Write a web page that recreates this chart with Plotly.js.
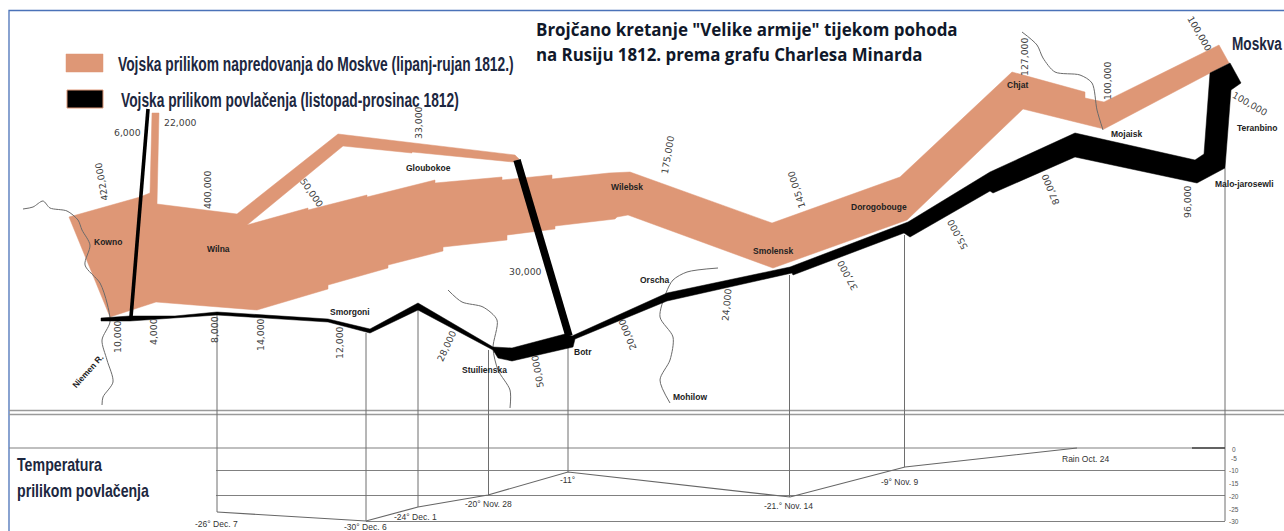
<!DOCTYPE html>
<html>
<head>
<meta charset="utf-8">
<script src="https://cdn.plot.ly/plotly-3.0.1.min.js"></script>
<style>html,body{margin:0;padding:0;background:#fff;overflow:hidden}#c{width:1284px;height:531px}</style>
</head>
<body>
<div id="c"></div>
<script>
// Army bands in image coordinates
const advanceX = [69,76,140,150,152,159,157,237,338,515,519,513,412,412,343,247,308,308,367,367,435,435,502,502,520,552,552,609,630,772,900,1012,1085,1085,1104,1219,1229,1104,1023,907,773,628,617,615,555,555,507,507,443,443,388,388,328,328,257,156,110];
const advanceY = [217,215,197,193,113,113,204,214,134,155,159,162,152,153,146,225,208,210,195,197,180,183,177,180,178,175,179,173,172,223,177,72,92,98,102,45,63,129,109,220,268,215,217,219,226,229,235,240,247,251,265,268,285,289,310,302,317];
const retreatX = [101,130,175,217,328,370,418,493,512,565,572,667,790,908,990,1075,1195,1204,1210,1230,1241,1231,1225,1197,1075,993,990,910,904,793,792,667,575,573,512,498,493,418,370,328,217,175,130,101];
const retreatY = [318,316,316,312,319,329,303,347,348,334,336,293,267,222,172,133,160,154,73,63,83,90,168,183,157,193,191,237,233,275,273,301,339,347,361,358,350,310,333,322,315,318,321,321];
const branch6000X = [148,131];
const branch6000Y = [109,317];
const branch30000X = [517,569];
const branch30000Y = [160,336];
// Rivers
const niemenX = [23,33,43,50,67,78,82,90,85,100,107,110,102,107,113,103,102];
const niemenY = [209,207,201,208,211,220,230,245,265,283,303,322,340,360,382,397,405];
const berezinaX = [448,462,483,497,493,498,510,510];
const berezinaY = [290,302,307,320,348,370,390,408];
const dnieperX = [718,687,673,666,660,673,670,660,670];
const dnieperY = [268,272,280,293,317,337,360,380,403];
const moskvaX = [1022,1037,1043,1055,1080,1092,1097,1103];
const moskvaY = [32,45,58,72,75,83,110,130];
// Temperature profile
const tempX = [217,366,418,488,568,790,905,1077];
const tempY = [512,521,507,495,472,497,467,448];
const rainX = [1192,1225];
const rainY = [448,448];
const dropX = [217,366,418,488.5,568,789.5,904.5,1225];
const dropTop = [315,333,310,350,340,275,235,168];
const dropBottom = [512,521,507,495,472,497,467,521];
const tempGridY = [448,470.5,495.5,521.5];
const tempGridStart = [9,216,216,366];
const bandY = [410.5,414.5];
// Labels
const cityNames = ["Kowno","Wilna","Gloubokoe","Wilebsk","Smolensk","Dorogobouge","Chjat","Mojaisk","Teranbino","Malo-jarosewli","Smorgoni","Stuilienska","Botr","Orscha","Mohilow"];
const cityX = [108,218,428,627,773,879,1017,1126,1257,1244,350,484,583,655,690];
const cityY = [242,249,168,187,251,207,85,134,128,184,312,370,352,280,397];
const troopNames = ["422,000","6,000","22,000","400,000","50,000","33,000","175,000","145,000","30,000","127,000","100,000","100,000","100,000","96,000","87,000","55,000","37,000","24,000","20,000","50,000","10,000","4,000","8,000","14,000","12,000","28,000"];
const troopX = [101,127,180,207,312,418,667,796,525,1024,1107,1200,1250,1187,1050,957,847,726,627,537,117,153,214,260,339,446];
const troopY = [182,132,122,190,192,123,155,190,271,57,81,33,103,202,190,235,276,305,335,372,337,332,330,335,343,346];
const troopAngle = [-100,0,0,-90,55,-90,-80,-107,0,-90,-90,60,30,-90,-112,-118,-118,-85,-112,-100,-90,-90,-90,-90,-90,-65];
const tempNames = ["-26° Dec. 7","-30° Dec. 6","-24° Dec. 1","-20° Nov. 28","-11°","-21.° Nov. 14","-9° Nov. 9","Rain Oct. 24"];
const tempLabelX = [216,365,415,488,567,788,900,1086];
const tempLabelY = [524,526.5,517,504,480,506,482,459];
const scaleNames = ["0","-5","-10","-15","-20","-25","-30"];
const scaleY = [449,458,470.5,483,496,509,521];
const legendNames = ["Vojska prilikom napredovanja do Moskve (lipanj-rujan 1812.)","Vojska prilikom povlačenja (listopad-prosinac 1812)"];
const titleLines = ['Brojčano kretanje "Velike armije" tijekom pohoda','na Rusiju 1812. prema grafu Charlesa Minarda'];
const swatchAdvanceX = [66,103,103,66], swatchAdvanceY = [54,54,72,72];
const swatchRetreatX = [67,103,103,67], swatchRetreatY = [90,90,108,108];
const frameX = [9,9,1284], frameY = [531,10.5,10.5];

const SALMON = "#de9776", NAVY = "#1c2740", GREY = "#6e6e6e";
const traces = [];
const line = (x,y,color,width,extra) => traces.push(Object.assign({type:"scatter",mode:"lines",x,y,hoverinfo:"skip",showlegend:false,line:Object.assign({color,width},extra||{})}));
const poly = (x,y,fill,lc,lw) => traces.push({type:"scatter",mode:"lines",x:x.concat(x[0]),y:y.concat(y[0]),fill:"toself",fillcolor:fill,hoverinfo:"skip",showlegend:false,line:{color:lc||fill,width:lw===undefined?0.5:lw}});

line(frameX,frameY,"#4a72b8",1.3);
bandY.forEach(y=>line([9,1284],[y,y],"#9a9a9a",1.3));
tempGridY.forEach((y,i)=>line([tempGridStart[i],1225],[y,y],"#808080",1.1));
dropX.forEach((x,i)=>line([x,x],[dropTop[i],dropBottom[i]],GREY,1));
line(tempX,tempY,"#666666",1.2);
line(rainX,rainY,"#444444",1.5);
poly(advanceX,advanceY,SALMON);
poly(swatchAdvanceX,swatchAdvanceY,SALMON);
poly(swatchRetreatX,swatchRetreatY,"#000000",SALMON,1);
[[niemenX,niemenY],[berezinaX,berezinaY],[dnieperX,dnieperY],[moskvaX,moskvaY]].forEach(r=>line(r[0],r[1],"#6a6a6a",1,{shape:"spline",smoothing:0.8}));
poly(retreatX,retreatY,"#000000");
line(branch6000X,branch6000Y,"#000000",3.6);
line(branch30000X,branch30000Y,"#000000",7.5);

const ann = [];
const squeeze = [];
const note = (text,x,y,size,color,family,angle,anchor,weight,widthPx) => {
  if (widthPx) squeeze.push({index:ann.length,widthPx});
  ann.push({text,x,y,xref:"x",yref:"y",showarrow:false,xanchor:anchor||"center",yanchor:"middle",textangle:angle||0,align:"left",font:{size,color,family,weight:weight||400},borderpad:0,borderwidth:0,captureevents:false});
};

const SANS = "Liberation Sans, Arial, sans-serif", WIDE = "DejaVu Sans, sans-serif", OPEN = "Open Sans, sans-serif";
cityNames.forEach((t,i)=>note(t,cityX[i],cityY[i],8.5,"#222",SANS,0,"center",700));
note("Niemen R.",88,371,8.5,"#222",SANS,-48,"center",700);
troopNames.forEach((t,i)=>note(t,troopX[i],troopY[i],9.3,"#3f3f3f",WIDE,troopAngle[i]));
tempNames.forEach((t,i)=>note(t,tempLabelX[i],tempLabelY[i],8.5,"#333",SANS));
scaleNames.forEach((t,i)=>note(t,1234,scaleY[i],6.5,"#555",SANS));
note(legendNames[0],118,64,20,NAVY,SANS,0,"left",700,396);
note(legendNames[1],121,100,20,NAVY,SANS,0,"left",700,338);
note(titleLines[0],536,29,17,"#10182a",OPEN,0,"left",700,422);
note(titleLines[1],536,54,17,"#10182a",OPEN,0,"left",700,387);
note("Temperatura",17,465,18,NAVY,SANS,0,"left",700,85);
note("prilikom povlačenja",17,491,18,NAVY,SANS,0,"left",700,132);
note("Moskva",1232,43,19,NAVY,SANS,0,"left",700,50);

const axis = r => ({range:r,visible:false,fixedrange:true,showgrid:false,zeroline:false});
Plotly.newPlot("c",traces,{
  width:1284,height:531,margin:{l:0,r:0,t:0,b:0},
  paper_bgcolor:"#ffffff",plot_bgcolor:"#ffffff",showlegend:false,
  xaxis:axis([0,1284]),yaxis:axis([531,0]),annotations:ann
},{displayModeBar:false,staticPlot:true}).then(gd=>{
  // The reference lettering is condensed and no condensed face is installed:
  // scale those texts horizontally to their measured widths, keeping them real text.
  squeeze.forEach(s=>{
    const t = gd.querySelector('.annotation[data-index="'+s.index+'"] text.annotation-text');
    if (!t) return;
    const natural = t.getComputedTextLength();
    const x0 = t.getBBox().x;
    const k = s.widthPx / natural;
    t.setAttribute("transform","translate("+x0+",0) scale("+k+",1) translate("+(-x0)+",0)");
  });
});
</script>
</body>
</html>
